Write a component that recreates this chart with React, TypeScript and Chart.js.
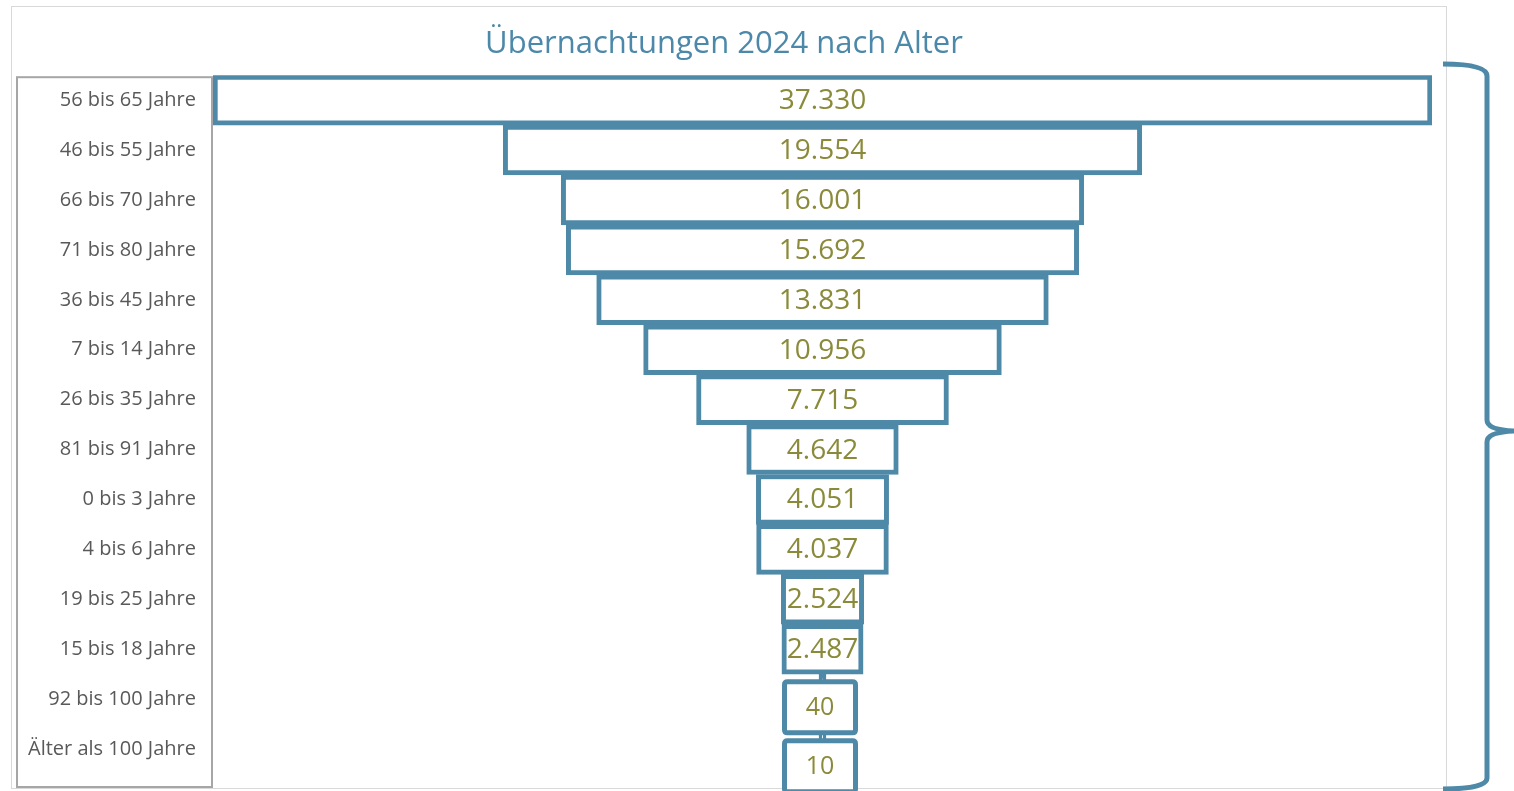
import { useEffect, useRef } from "react";
import { Chart, registerables } from "chart.js";

Chart.register(...registerables);

const chartTitle = "Übernachtungen 2024 nach Alter";

const categories = [
  "56 bis 65 Jahre",
  "46 bis 55 Jahre",
  "66 bis 70 Jahre",
  "71 bis 80 Jahre",
  "36 bis 45 Jahre",
  "7 bis 14 Jahre",
  "26 bis 35 Jahre",
  "81 bis 91 Jahre",
  "0 bis 3 Jahre",
  "4 bis 6 Jahre",
  "19 bis 25 Jahre",
  "15 bis 18 Jahre",
  "92 bis 100 Jahre",
  "Älter als 100 Jahre",
];

const overnightStays = [37330, 19554, 16001, 15692, 13831, 10956, 7715, 4642, 4051, 4037, 2524, 2487, 40, 10];

const BLUE = "#4e89a8";
const TITLE_COLOR = "#4b88a9";
const VALUE_COLOR = "#8a8a3a";
const LABEL_COLOR = "#595959";
const FONT = "'Open Sans', 'Noto Sans', sans-serif";

const fmt = (v: number) => String(v).replace(/\B(?=(\d{3})+(?!\d))/g, ".");

const maxValue = Math.max(...overnightStays);
const funnelData = overnightStays.map((v) => [maxValue / 2 - v / 2, maxValue / 2 + v / 2]);

const decorPlugin = {
  id: "decor",
  afterDatasetsUpdate(chart: any) {
    // keep minimum-length bars centred on the funnel axis
    const xs = chart.scales.x;
    const c = xs.getPixelForValue(maxValue / 2);
    chart.getDatasetMeta(0).data.forEach((el: any) => {
      const mid = (el.x + el.base) / 2;
      const shift = c - mid;
      el.x += shift;
      el.base += shift;
    });
  },
  beforeDraw(chart: any) {
    const ctx = chart.ctx;
    ctx.save();
    ctx.strokeStyle = "#d9d9d9";
    ctx.lineWidth = 1;
    ctx.strokeRect(11.5, 6.5, 1435, 782);
    ctx.restore();
  },
  afterDraw(chart: any) {
    const ctx = chart.ctx;
    const ys = chart.scales.y;
    const area = chart.chartArea;
    ctx.save();
    // label box
    ctx.strokeStyle = "#a6a6a6";
    ctx.lineWidth = 2;
    ctx.strokeRect(ys.left + 1, area.top + 2, ys.right - ys.left - 2, area.bottom - area.top + 11);
    // curly brace
    ctx.strokeStyle = BLUE;
    ctx.lineWidth = 5;
    ctx.lineJoin = "round";
    ctx.lineCap = "butt";
    ctx.beginPath();
    ctx.moveTo(1443, 64);
    ctx.quadraticCurveTo(1487, 64, 1487, 76);
    ctx.lineTo(1487, 420);
    ctx.quadraticCurveTo(1487, 430, 1514, 431);
    ctx.quadraticCurveTo(1487, 432, 1487, 442);
    ctx.lineTo(1487, 778);
    ctx.quadraticCurveTo(1487, 789, 1443, 789);
    ctx.stroke();
    ctx.restore();
  },
  afterDatasetsDraw(chart: any) {
    const ctx = chart.ctx;
    const meta = chart.getDatasetMeta(0);
    ctx.save();
    ctx.textAlign = "center";
    ctx.textBaseline = "middle";
    let prevBottom = -Infinity;
    meta.data.forEach((el: any, i: number) => {
      const { x, base, y } = el.getProps(["x", "base", "y"], true);
      const w = Math.abs(x - base);
      const cx = (x + base) / 2;
      const text = fmt(overnightStays[i]);
      ctx.font = `28px ${FONT}`;
      const tw = ctx.measureText(text).width;
      if (tw <= w - 8) {
        ctx.fillStyle = VALUE_COLOR;
        ctx.fillText(text, cx, y + 1);
      } else {
        const bw = 71;
        const bh = 51;
        const top = Math.max(y - 20, prevBottom + 3);
        prevBottom = top + bh + 5;
        const bx = cx - 2.5 - bw / 2;
        const by = top + 2.5;
        ctx.beginPath();
        const r = 3;
        ctx.moveTo(bx + r, by);
        ctx.lineTo(bx + bw - r, by);
        ctx.quadraticCurveTo(bx + bw, by, bx + bw, by + r);
        ctx.lineTo(bx + bw, by + bh - r);
        ctx.quadraticCurveTo(bx + bw, by + bh, bx + bw - r, by + bh);
        ctx.lineTo(bx + r, by + bh);
        ctx.quadraticCurveTo(bx, by + bh, bx, by + bh - r);
        ctx.lineTo(bx, by + r);
        ctx.quadraticCurveTo(bx, by, bx + r, by);
        ctx.closePath();
        ctx.fillStyle = "#ffffff";
        ctx.fill();
        ctx.strokeStyle = BLUE;
        ctx.lineWidth = 5;
        ctx.stroke();
        ctx.font = `25px ${FONT}`;
        ctx.fillStyle = VALUE_COLOR;
        ctx.fillText(text, bx + bw / 2, by + bh / 2 + 1);
      }
    });
    ctx.restore();
  },
};

export default function App() {
  const ref = useRef<HTMLCanvasElement | null>(null);
  useEffect(() => {
    if (!ref.current) return;
    const chart = new Chart(ref.current, {
      type: "bar",
      data: {
        labels: categories,
        datasets: [
          {
            label: "Übernachtungen",
            data: funnelData as any,
            backgroundColor: "#ffffff",
            borderColor: BLUE,
            borderWidth: 5,
            borderSkipped: false,
            barPercentage: 1,
            categoryPercentage: 1,
            minBarLength: 7,
          },
        ],
      },
      options: {
        indexAxis: "y",
        animation: false,
        responsive: false,
        events: [],
        layout: { padding: { left: 16, right: 82, top: 0, bottom: 17 } },
        scales: {
          x: { display: false, min: 0, max: maxValue },
          y: {
            type: "category",
            grid: { display: false, drawTicks: false },
            border: { display: false },
            ticks: {
              color: LABEL_COLOR,
              font: { family: FONT, size: 20 },
              padding: 17,
            },
            afterFit: (scale: any) => {
              scale.width = 197;
              scale.paddingTop = 0;
              scale.paddingBottom = 0;
            },
          },
        },
        plugins: {
          legend: { display: false },
          tooltip: { enabled: false },
          title: {
            display: true,
            text: chartTitle,
            color: TITLE_COLOR,
            font: { family: FONT, size: 31, weight: "normal" },
            padding: { top: 26, bottom: 12 },
          },
        },
      },
      plugins: [decorPlugin],
    });
    return () => chart.destroy();
  }, []);
  return (
    <div style={{ position: "fixed", left: 0, top: 0, width: 1514, height: 791, background: "#fff" }}>
      <canvas ref={ref} width={1514} height={791} style={{ display: "block" }} />
    </div>
  );
}
